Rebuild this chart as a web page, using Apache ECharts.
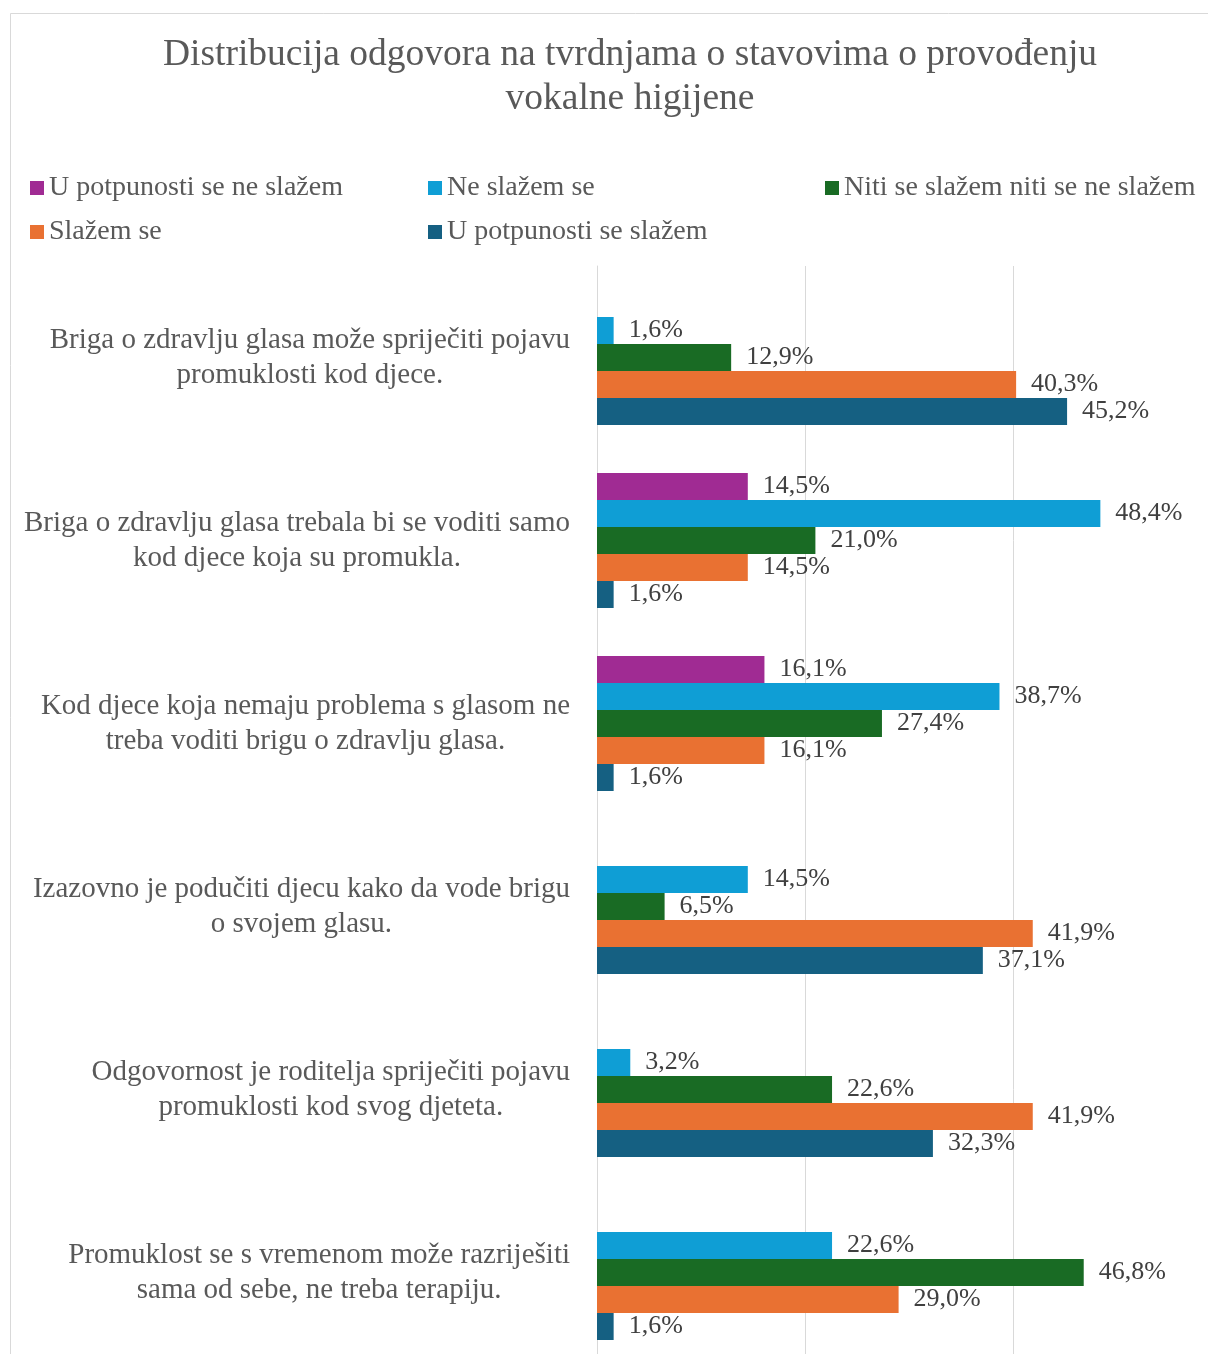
<!DOCTYPE html>
<html>
<head>
<meta charset="utf-8">
<script src="https://cdn.jsdelivr.net/npm/echarts@6/dist/echarts.min.js"></script>
<style>
html,body{margin:0;padding:0;background:#fff;overflow:hidden;width:1208px;height:1354px;}
#chart{width:1260px;height:1420px;}
</style>
</head>
<body>
<div id="chart"></div>
<script>
const categories = [
  "Briga o zdravlju glasa može spriječiti pojavu\npromuklosti kod djece.",
  "Briga o zdravlju glasa trebala bi se voditi samo\nkod djece koja su promukla.",
  "Kod djece koja nemaju problema s glasom ne\ntreba voditi brigu o zdravlju glasa.",
  "Izazovno je podučiti djecu kako da vode brigu\no svojem glasu.",
  "Odgovornost je roditelja spriječiti pojavu\npromuklosti kod svog djeteta.",
  "Promuklost se s vremenom može razriješiti\nsama od sebe, ne treba terapiju."
];
const seriesNames = [
  "U potpunosti se ne slažem",
  "Ne slažem se",
  "Niti se slažem niti se ne slažem",
  "Slažem se",
  "U potpunosti se slažem"
];
const uPotpunostiNe = [null, 14.5, 16.1, null, null, null];
const neSlazem = [1.6, 48.4, 38.7, 14.5, 3.2, 22.6];
const niti = [12.9, 21.0, 27.4, 6.5, 22.6, 46.8];
const slazem = [40.3, 14.5, 16.1, 41.9, 41.9, 29.0];
const uPotpunostiDa = [45.2, 1.6, 1.6, 37.1, 32.3, 1.6];
const xTicks = [0, 20, 40, 60];

const colors = ['#A02B93', '#0F9ED5', '#196B24', '#E97132', '#156082'];
const allData = [uPotpunostiNe, neSlazem, niti, slazem, uPotpunostiDa];
const FONT = "'Liberation Serif', 'Times New Roman', serif";

const chart = echarts.init(document.getElementById('chart'));

const legendPos = [[30, 172], [428, 172], [825, 172], [30, 216], [428, 216]];

const option = {
  backgroundColor: '#fff',
  animation: false,
  title: {
    text: 'Distribucija odgovora na tvrdnjama o stavovima o provođenju\nvokalne higijene',
    left: 625,
    top: 28,
    textAlign: 'center',
    textStyle: {
      fontFamily: FONT,
      fontSize: 37.5,
      fontWeight: 'normal',
      color: '#595959',
      lineHeight: 44
    }
  },
  legend: seriesNames.map((n, i) => ({
    data: [n],
    left: legendPos[i][0],
    top: legendPos[i][1],
    padding: 0,
    icon: 'rect',
    itemWidth: 14,
    itemHeight: 14,
    selectedMode: false,
    textStyle: { fontFamily: FONT, fontSize: 28, color: '#595959', lineHeight: 32 }
  })),
  graphic: [{
    type: 'rect',
    silent: true,
    shape: { x: 10.5, y: 13.5, width: 1400, height: 1500 },
    style: { fill: 'none', stroke: '#d9d9d9', lineWidth: 1 }
  }],
  grid: { left: 597, top: 266, width: 624, height: 1098, containLabel: false },
  xAxis: {
    type: 'value',
    min: xTicks[0],
    max: xTicks[xTicks.length - 1],
    interval: 20,
    axisLabel: { show: false },
    axisLine: { show: false },
    axisTick: { show: false },
    splitLine: { show: true, lineStyle: { color: '#d9d9d9', width: 1 } }
  },
  yAxis: {
    type: 'category',
    inverse: true,
    data: categories,
    axisLine: { show: true, lineStyle: { color: '#d9d9d9' } },
    axisTick: { show: false },
    axisLabel: {
      margin: 27,
      align: 'right',
      formatter: v => v.split('\n').map(l => '{c|' + l + '}').join('\n'),
      rich: {
        c: { align: 'center', fontFamily: FONT, fontSize: 29, color: '#595959', lineHeight: 35 }
      }
    }
  },
  series: seriesNames.map((n, i) => ({
    name: n,
    type: 'bar',
    data: allData[i],
    barWidth: 27,
    barGap: '0%',
    itemStyle: { color: colors[i] },
    label: {
      show: true,
      position: 'right',
      distance: 15,
      fontFamily: FONT,
      fontSize: 26,
      color: '#404040',
      formatter: p => p.value == null ? '' : p.value.toFixed(1).replace('.', ',') + '%'
    }
  }))
};
chart.setOption(option);
</script>
</body>
</html>
